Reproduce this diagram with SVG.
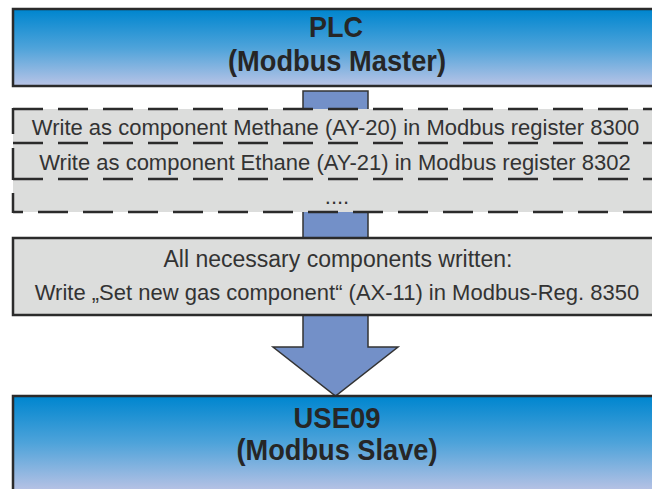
<svg xmlns="http://www.w3.org/2000/svg" width="652" height="489" viewBox="0 0 652 489">
<defs>
<linearGradient id="blueTop" gradientUnits="userSpaceOnUse" x1="0" y1="10" x2="0" y2="86">
<stop offset="0" stop-color="#0086cf"/>
<stop offset="0.5" stop-color="#4ea3da"/>
<stop offset="1" stop-color="#b9c4e6"/>
</linearGradient>
<linearGradient id="blueBot" gradientUnits="userSpaceOnUse" x1="0" y1="397" x2="0" y2="489">
<stop offset="0" stop-color="#0086cf"/>
<stop offset="0.5" stop-color="#4ea3da"/>
<stop offset="1" stop-color="#b4c1e4"/>
</linearGradient>
</defs>
<style>
.title{font-family:"Liberation Sans",Arial,sans-serif;font-weight:bold;font-size:30px;fill:#262626;text-anchor:middle}
.txt{font-family:"Liberation Sans",Arial,sans-serif;font-size:22px;fill:#333333;text-anchor:middle}
.dash{fill:none;stroke:#2b2b2b;stroke-width:2.5;stroke-dasharray:30 15}
.box{stroke:#2b2b2b;stroke-width:2.5}
</style>
<rect width="652" height="489" fill="#ffffff"/>
<g id="connectors">
<path d="M303 91 H368 V347 H398 L335.5 396 L273 347 H303 Z" fill="#7390c8" stroke="#333333" stroke-width="1.5" stroke-linejoin="miter"/>
</g>
<g id="plc">
<rect class="box" x="13" y="9" width="660" height="77" fill="url(#blueTop)"/>
<text class="title" x="336" y="37" textLength="54" lengthAdjust="spacingAndGlyphs">PLC</text>
<text class="title" x="337" y="71" textLength="218" lengthAdjust="spacingAndGlyphs">(Modbus Master)</text>
</g>
<g id="writes">
<rect x="13" y="109" width="660" height="103" fill="#dcdddc"/>
<line class="dash" x1="13" y1="109" x2="660" y2="109"/>
<line class="dash" x1="13" y1="143" x2="660" y2="143"/>
<line class="dash" x1="13" y1="179" x2="660" y2="179"/>
<line class="dash" x1="13" y1="212" x2="660" y2="212" stroke-dashoffset="20"/>
<path d="M13 108 V134 M13 148 V180 M13 193 V213" fill="none" stroke="#2b2b2b" stroke-width="2.5"/>
<text class="txt" x="335.5" y="135">Write as component Methane (AY-20) in Modbus register 8300</text>
<text class="txt" x="335" y="170">Write as component Ethane (AY-21) in Modbus register 8302</text>
<text class="txt" x="337" y="204">....</text>
</g>
<g id="setgas">
<rect class="box" x="13" y="238" width="660" height="77" fill="#dcdddc"/>
<text class="txt" x="338" y="267" style="font-size:23px">All necessary components written:</text>
<text class="txt" x="337" y="300">Write „Set new gas component“ (AX-11) in Modbus-Reg. 8350</text>
</g>
<g id="use09">
<rect class="box" x="13" y="396" width="660" height="100" fill="url(#blueBot)"/>
<text class="title" x="337" y="428" textLength="87" lengthAdjust="spacingAndGlyphs">USE09</text>
<text class="title" x="337" y="460" textLength="201" lengthAdjust="spacingAndGlyphs">(Modbus Slave)</text>
</g>
</svg>
